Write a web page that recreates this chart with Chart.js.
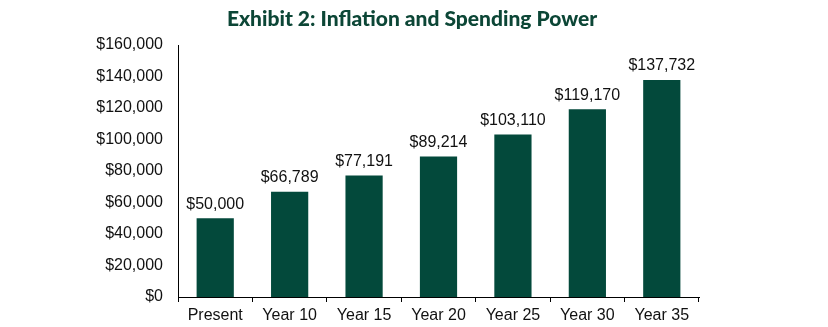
<!DOCTYPE html>
<html>
<head>
<meta charset="utf-8">
<script src="https://cdn.jsdelivr.net/npm/chart.js@4"></script>
<style>
  html, body { margin: 0; padding: 0; background: #fff; }
  #wrap { width: 828px; height: 327px; }
</style>
</head>
<body>
<div id="wrap"><canvas id="chart"></canvas></div>
<script>
const chartTitle = 'Exhibit 2: Inflation and Spending Power';
const categories = ['Present', 'Year 10', 'Year 15', 'Year 20', 'Year 25', 'Year 30', 'Year 35'];
const spending = [50000, 66789, 77191, 89214, 103110, 119170, 137732];

const green = '#03493b';
const textColor = '#111';

const money = v => '$' + v.toLocaleString('en-US');

// title + value labels drawn on the canvas
const extras = {
    id: 'extras',
    afterDraw(chart) {
        const ctx = chart.ctx;
        ctx.save();
        ctx.fillStyle = '#0c4636';
        ctx.font = '900 21px Lato';
        ctx.textAlign = 'center';
        ctx.textBaseline = 'middle';
        ctx.fillText(chartTitle, 412, 19);

        ctx.fillStyle = textColor;
        ctx.font = '16px "Liberation Sans"';
        chart.getDatasetMeta(0).data.forEach((bar, i) => {
            ctx.fillText(money(spending[i]), bar.x, bar.y - 14);
        });
        ctx.restore();
    }
};

new Chart(document.getElementById('chart'), {
    type: 'bar',
    data: {
        labels: categories,
        datasets: [{
            data: spending,
            backgroundColor: green,
            categoryPercentage: 1,
            barPercentage: 0.5
        }]
    },
    options: {
        responsive: true,
        maintainAspectRatio: false,
        animation: false,
        layout: { padding: { top: 45, right: 129, left: 0, bottom: 0 } },
        plugins: {
            legend: { display: false },
            tooltip: { enabled: false }
        },
        scales: {
            x: {
                grid: { display: true, drawOnChartArea: false, tickLength: 5, color: '#000', offset: true },
                border: { display: true, color: '#000', width: 1 },
                ticks: { color: textColor, font: { family: 'Liberation Sans', size: 16 }, padding: 4, maxRotation: 0 },
                afterFit: s => { s.height = 30; }
            },
            y: {
                min: 0,
                max: 160000,
                grid: { display: false },
                border: { display: true, color: '#000', width: 1 },
                ticks: {
                    stepSize: 20000,
                    color: textColor,
                    font: { family: 'Liberation Sans', size: 16 },
                    padding: 7,
                    callback: v => money(v)
                },
                afterFit: s => { s.width = 178; }
            }
        }
    },
    plugins: [extras]
});
</script>
</body>
</html>
